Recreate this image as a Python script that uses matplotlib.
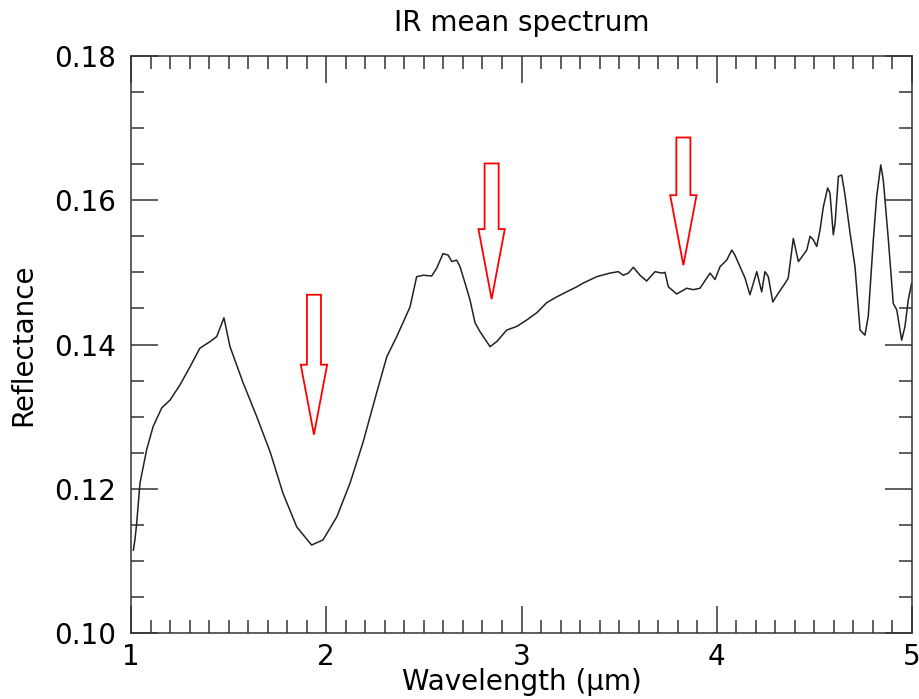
import matplotlib
matplotlib.use("Agg")
import matplotlib.pyplot as plt
from matplotlib.ticker import MultipleLocator

# IR mean spectrum
wavelength = [1.012, 1.020, 1.029, 1.046, 1.080, 1.113, 1.157, 1.200, 1.251, 1.302,
              1.353, 1.405, 1.439, 1.476, 1.507, 1.574, 1.644, 1.714, 1.778, 1.849,
              1.925, 1.983, 2.054, 2.122, 2.188, 2.258, 2.310, 2.361, 2.429, 2.463,
              2.496, 2.540, 2.566, 2.598, 2.624, 2.643, 2.668, 2.685, 2.711, 2.736,
              2.762, 2.787, 2.839, 2.873, 2.924, 2.975, 3.027, 3.078, 3.129, 3.180,
              3.231, 3.283, 3.315, 3.385, 3.453, 3.496, 3.521, 3.547, 3.573, 3.607,
              3.641, 3.684, 3.718, 3.735, 3.752, 3.795, 3.846, 3.880, 3.914, 3.966,
              3.991, 4.017, 4.051, 4.077, 4.093, 4.119, 4.145, 4.170, 4.205, 4.230,
              4.247, 4.264, 4.287, 4.315, 4.350, 4.366, 4.392, 4.418, 4.443, 4.461,
              4.478, 4.495, 4.512, 4.529, 4.546, 4.568, 4.580, 4.597, 4.606, 4.623,
              4.640, 4.657, 4.683, 4.708, 4.734, 4.759, 4.776, 4.802, 4.819, 4.840,
              4.853, 4.879, 4.904, 4.922, 4.947, 4.964, 4.981, 4.998]
reflectance = [0.1115, 0.1129, 0.1152, 0.1208, 0.1254, 0.1286, 0.1312, 0.1323, 0.1344, 0.1369,
               0.1395, 0.1404, 0.1411, 0.1437, 0.1397, 0.1347, 0.1300, 0.1250, 0.1194, 0.1147,
               0.1122, 0.1129, 0.1161, 0.1208, 0.1264, 0.1333, 0.1383, 0.1411, 0.1452, 0.1494,
               0.1496, 0.1495, 0.1506, 0.1526, 0.1524, 0.1515, 0.1517, 0.1508, 0.1485, 0.1462,
               0.1430, 0.1418, 0.1397, 0.1404, 0.1420, 0.1425, 0.1434, 0.1444, 0.1458, 0.1466,
               0.1473, 0.1480, 0.1485, 0.1494, 0.1499, 0.1501, 0.1496, 0.1499, 0.1507, 0.1496,
               0.1488, 0.1501, 0.1499, 0.1500, 0.1480, 0.1470, 0.1478, 0.1476, 0.1478, 0.1499,
               0.1490, 0.1508, 0.1517, 0.1531, 0.1524, 0.1508, 0.1492, 0.1469, 0.1501, 0.1473,
               0.1501, 0.1494, 0.1459, 0.1471, 0.1485, 0.1492, 0.1547, 0.1515, 0.1524, 0.1531,
               0.1550, 0.1545, 0.1536, 0.1559, 0.1591, 0.1617, 0.1610, 0.1552, 0.1568, 0.1633,
               0.1635, 0.1607, 0.1554, 0.1508, 0.1420, 0.1413, 0.1439, 0.1545, 0.1605, 0.1649,
               0.1628, 0.1545, 0.1457, 0.1448, 0.1406, 0.1425, 0.1462, 0.1485]

# absorption band markers (hollow red arrows)
arrow_x = [1.937, 2.847, 3.829]
arrow_top = [0.1469, 0.1651, 0.1687]
arrow_tip = [0.1275, 0.1463, 0.1510]

plt.rcParams['font.family'] = ['DejaVu Sans']

fig = plt.figure(figsize=(9.2, 6.99), dpi=100)
ax = fig.add_axes([0.1424, 0.0944, 0.8489, 0.8255])

ax.plot(wavelength, reflectance, color='#222222', lw=1.1)

for x, top, tip in zip(arrow_x, arrow_top, arrow_tip):
    ax.arrow(x, top, 0, tip - top, width=0.072, head_width=0.135,
             head_length=0.0097, length_includes_head=True,
             facecolor='none', edgecolor='red', lw=1.3)

ax.set_xlim(1, 5)
ax.set_ylim(0.10, 0.18)
ax.xaxis.set_major_locator(MultipleLocator(1))
ax.xaxis.set_minor_locator(MultipleLocator(0.1))
ax.yaxis.set_major_locator(MultipleLocator(0.02))
ax.yaxis.set_minor_locator(MultipleLocator(0.005))
ax.yaxis.set_major_formatter(plt.FuncFormatter(lambda v, p: f"{v:.2f}"))

ax.tick_params(which='both', direction='in', top=True, right=True,
               color='#333333', width=1.1, labelsize=20)
ax.tick_params(which='major', length=19.5)
ax.tick_params(which='minor', length=9.5)
ax.tick_params(axis='x', which='major', pad=7)
ax.tick_params(axis='y', which='major', pad=11)
for s in ax.spines.values():
    s.set_color('#333333')
    s.set_linewidth(1.1)

ax.set_xlabel('Wavelength (µm)', fontsize=20, labelpad=-2)
ax.set_ylabel('Reflectance', fontsize=20, labelpad=12)
ax.set_title('IR mean spectrum', fontsize=20, pad=18)

fig.savefig('out.png', dpi=100)
